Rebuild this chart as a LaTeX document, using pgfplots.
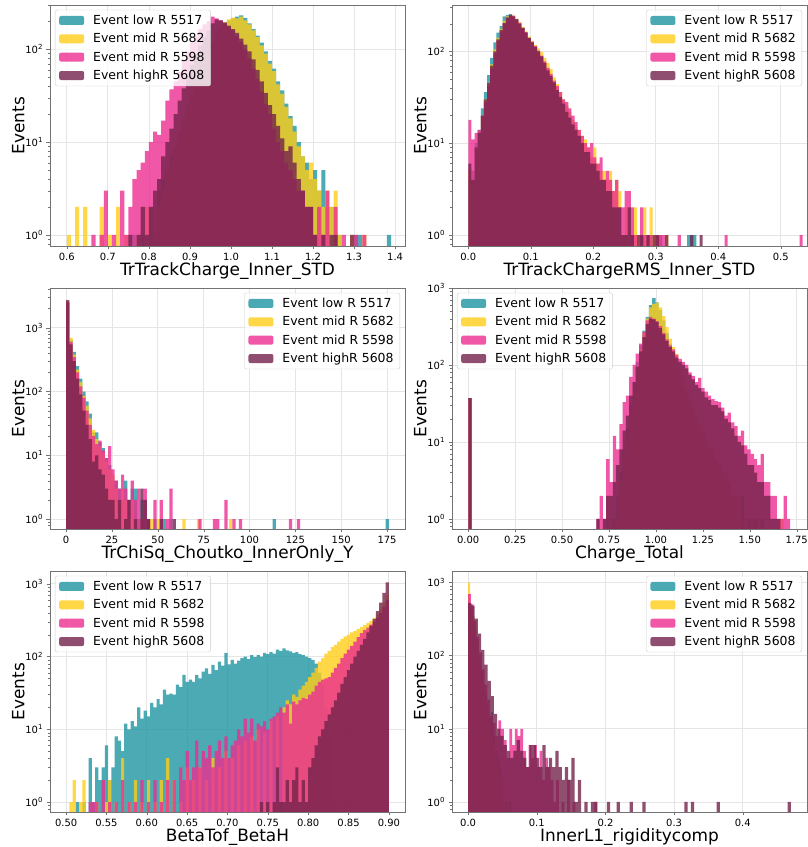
\documentclass[border=0pt]{standalone}
\usepackage{fontspec}
\setmainfont{DejaVu Sans}
\usepackage{pgfplots}
\pgfplotsset{compat=1.18}
\usepgfplotslibrary{groupplots}

\definecolor{cteal}{RGB}{30,149,161}
\definecolor{cgold}{RGB}{255,205,25}
\definecolor{cpink}{RGB}{236,45,145}
\definecolor{cmaroon}{RGB}{115,35,75}

\pgfplotsset{
  hb/.style 2 args={ybar, bar shift=0pt, bar width=#2, fill=#1, fill opacity=0.8, draw=none,
    legend image code/.code={\fill[fill=#1, fill opacity=0.8] (0bp,-4.5bp) rectangle (25bp,4.5bp); \path (32bp,0bp);}},
  lgl/.style={legend style={at={(0.014,0.98)}, anchor=north west}},
  lgr/.style={legend style={at={(0.986,0.98)}, anchor=north east}},
}

\begin{document}
\begin{tikzpicture}
\begin{groupplot}[
  group style={group name=G, group size=2 by 3, horizontal sep=47bp, vertical sep=42bp},
  width=355bp, height=241bp, scale only axis,
  ymode=log, log origin y=infty,
  axis line style={black!55},
  tick align=outside, xtick pos=lower, ytick pos=left,
  tick style={black!55},
  major tick length=3.5bp, minor tick length=2bp,
  minor ytick={0.8,0.9,2,3,4,5,6,7,8,9,20,30,40,50,60,70,80,90,200,300,400,500,600,700,800,900,2000,3000,4000},
  grid=major, major grid style={black!10, line width=0.8bp},
  tick label style={font=\fontsize{10}{12}\selectfont},
  every axis x label/.style={at={(axis description cs:0.5,-0.067)}, anchor=north, inner sep=0pt, font=\fontsize{17}{20}\selectfont},
  every axis y label/.style={at={(axis description cs:-0.089,0.5)}, rotate=90, anchor=center, inner sep=0pt, font=\fontsize{17}{20}\selectfont},
  ylabel={Events},
  legend cell align=left,
  legend style={font=\fontsize{12.5}{14}\selectfont, draw=black!20, rounded corners=2bp,
    fill=white, fill opacity=0.8, text opacity=1, inner xsep=4bp, inner ysep=3bp,
    row sep=3.4bp},
  legend entries={Event low R 5517, Event mid R 5682, Event mid R 5598, Event highR 5608},
]

% ---- TrTrackCharge_Inner_STD
\nextgroupplot[lgl, xmin=0.559, xmax=1.424, ymin=0.76, ymax=300,
  xtick={0.6,0.7,0.8,0.9,1.0,1.1,1.2,1.3,1.4},
  xticklabels={0.6,0.7,0.8,0.9,1.0,1.1,1.2,1.3,1.4},
  ytick={1,10,100}, yticklabels={10\textsuperscript{0},10\textsuperscript{1},10\textsuperscript{2}},
  xlabel={TrTrackCharge\_Inner\_STD}]
\coordinate (tl) at (rel axis cs:0,1);
\addplot[hb={cteal}{0.01}] coordinates {(0.765,1)(0.785,1)(0.805,2)(0.815,1)(0.825,3)(0.835,4)(0.845,5)(0.855,7)(0.865,9)(0.875,12)(0.885,17)(0.895,24)(0.905,32)(0.915,42)(0.925,55)(0.935,72)(0.945,92)(0.955,115)(0.965,140)(0.975,165)(0.985,190)(0.995,205)(1.005,215)(1.015,225)(1.025,232)(1.035,218)(1.045,190)(1.055,165)(1.065,140)(1.075,118)(1.085,95)(1.095,75)(1.105,62)(1.115,45)(1.125,36)(1.135,26)(1.145,19)(1.155,15)(1.165,10)(1.175,7)(1.185,6)(1.195,4)(1.205,5)(1.215,3)(1.225,5)(1.235,2)(1.245,2)(1.265,1)(1.305,1)(1.315,1)(1.385,1)};
\addplot[hb={cgold}{0.01}] coordinates {(0.605,1)(0.625,2)(0.645,2)(0.685,2)(0.705,1)(0.725,2)(0.745,1)(0.775,1)(0.795,2)(0.815,2)(0.825,2)(0.835,3)(0.845,5)(0.855,6)(0.865,9)(0.875,13)(0.885,18)(0.895,25)(0.905,33)(0.915,44)(0.925,58)(0.935,75)(0.945,95)(0.955,120)(0.965,145)(0.975,170)(0.985,195)(0.995,210)(1.005,220)(1.015,215)(1.025,225)(1.035,205)(1.045,185)(1.055,160)(1.065,135)(1.075,110)(1.085,90)(1.095,70)(1.105,58)(1.115,42)(1.125,33)(1.135,24)(1.145,18)(1.155,13)(1.165,9)(1.175,7)(1.185,5)(1.195,6)(1.205,4)(1.215,3)(1.225,2)(1.235,3)(1.245,2)(1.255,3)(1.265,1)(1.295,1)(1.325,1)};
\addplot[hb={cpink}{0.01}] coordinates {(0.665,1)(0.685,1)(0.695,3)(0.715,1)(0.735,3)(0.745,1)(0.755,2)(0.765,4)(0.775,5)(0.785,6)(0.795,8)(0.805,10)(0.815,13)(0.825,12)(0.835,17)(0.845,28)(0.855,37)(0.865,45)(0.875,57)(0.885,75)(0.895,95)(0.905,118)(0.915,140)(0.925,165)(0.935,185)(0.945,200)(0.955,225)(0.965,215)(0.975,205)(0.985,190)(0.995,175)(1.005,160)(1.015,140)(1.025,120)(1.035,100)(1.045,80)(1.055,62)(1.065,48)(1.075,35)(1.085,26)(1.095,20)(1.105,14)(1.115,10)(1.125,8)(1.135,6)(1.145,5)(1.155,4)(1.165,3)(1.175,3)(1.185,2)(1.195,2)(1.205,1)(1.215,2)(1.225,1)(1.235,3)(1.255,2)(1.275,1)(1.305,1)(1.325,1)};
\addplot[hb={cmaroon}{0.01}] coordinates {(0.755,1)(0.775,1)(0.785,2)(0.795,1)(0.805,2)(0.815,3)(0.825,4)(0.835,7)(0.845,10)(0.855,14)(0.865,20)(0.875,28)(0.885,38)(0.895,52)(0.905,68)(0.915,88)(0.925,110)(0.935,135)(0.945,160)(0.955,190)(0.965,210)(0.975,205)(0.985,195)(0.995,180)(1.005,165)(1.015,150)(1.025,130)(1.035,112)(1.045,95)(1.055,78)(1.065,60)(1.075,45)(1.085,34)(1.095,25)(1.105,20)(1.115,15)(1.125,11)(1.135,8)(1.145,9)(1.155,6)(1.165,4)(1.175,3)(1.185,2)(1.195,2)(1.205,1)(1.225,1)(1.245,1)(1.255,1)(1.295,1)};

% ---- TrTrackChargeRMS_Inner_STD
\nextgroupplot[lgr, xmin=-0.026, xmax=0.542, ymin=0.76, ymax=320,
  xtick={0,0.1,0.2,0.3,0.4,0.5}, xticklabels={0.0,0.1,0.2,0.3,0.4,0.5},
  ytick={1,10,100}, yticklabels={10\textsuperscript{0},10\textsuperscript{1},10\textsuperscript{2}},
  xlabel={TrTrackChargeRMS\_Inner\_STD}]
\addplot[hb={cteal}{0.005}] coordinates {(0.0025,4)(0.0075,5)(0.0125,10)(0.0175,14)(0.0225,24)(0.0275,36)(0.0325,55)(0.0375,85)(0.0425,125)(0.0475,160)(0.0525,190)(0.0575,240)(0.0625,250)(0.0675,255)(0.0725,240)(0.0775,220)(0.0825,200)(0.0875,178)(0.0925,155)(0.0975,135)(0.1025,120)(0.1075,108)(0.1125,95)(0.1175,82)(0.1225,70)(0.1275,60)(0.1325,52)(0.1375,44)(0.1425,36)(0.1475,30)(0.1525,28)(0.1575,25)(0.1625,20)(0.1675,17)(0.1725,14)(0.1775,12)(0.1825,10)(0.1875,8)(0.1925,7)(0.1975,6)(0.2025,5)(0.2075,5)(0.2125,4)(0.2175,3)(0.2225,3)(0.2275,2)(0.2325,2)(0.2375,2)(0.2425,1)(0.2475,1)(0.2525,1)(0.2625,1)(0.2775,1)(0.2925,1)(0.3075,1)(0.3525,1)(0.3575,1)(0.3625,1)};
\addplot[hb={cgold}{0.005}] coordinates {(0.0025,5)(0.0075,4)(0.0125,9)(0.0175,12)(0.0225,20)(0.0275,30)(0.0325,45)(0.0375,72)(0.0425,105)(0.0475,140)(0.0525,175)(0.0575,215)(0.0625,240)(0.0675,248)(0.0725,245)(0.0775,228)(0.0825,210)(0.0875,185)(0.0925,165)(0.0975,145)(0.1025,130)(0.1075,118)(0.1125,108)(0.1175,98)(0.1225,85)(0.1275,75)(0.1325,64)(0.1375,52)(0.1425,44)(0.1475,36)(0.1525,30)(0.1575,26)(0.1625,22)(0.1675,18)(0.1725,15)(0.1775,14)(0.1825,12)(0.1875,11)(0.1925,9)(0.1975,7)(0.2025,9)(0.2075,6)(0.2125,5)(0.2175,5)(0.2225,4)(0.2275,5)(0.2325,3)(0.2375,4)(0.2425,3)(0.2475,1)(0.2525,2)(0.2575,1)(0.2675,2)(0.2725,1)(0.2825,2)(0.2875,1)(0.2925,2)(0.2975,1)(0.3025,1)(0.3175,1)};
\addplot[hb={cpink}{0.005}] coordinates {(0.0025,18)(0.0075,11)(0.0125,13)(0.0175,14)(0.0225,20)(0.0275,28)(0.0325,42)(0.0375,65)(0.0425,95)(0.0475,130)(0.0525,165)(0.0575,200)(0.0625,230)(0.0675,245)(0.0725,245)(0.0775,220)(0.0825,205)(0.0875,180)(0.0925,162)(0.0975,140)(0.1025,128)(0.1075,115)(0.1125,102)(0.1175,90)(0.1225,78)(0.1275,66)(0.1325,57)(0.1375,48)(0.1425,42)(0.1475,36)(0.1525,30)(0.1575,28)(0.1625,24)(0.1675,20)(0.1725,17)(0.1775,14)(0.1825,12)(0.1875,10)(0.1925,9)(0.1975,10)(0.2025,7)(0.2075,6)(0.2125,7)(0.2175,4)(0.2225,5)(0.2275,4)(0.2325,3)(0.2375,4)(0.2425,2)(0.2475,2)(0.2525,3)(0.2575,3)(0.2625,2)(0.2675,1)(0.2775,2)(0.2825,1)(0.2875,1)(0.2925,1)(0.3025,1)(0.3075,1)(0.3125,1)(0.3375,1)(0.4125,1)(0.5325,1)};
\addplot[hb={cmaroon}{0.005}] coordinates {(0.0025,6)(0.0075,4)(0.0125,9)(0.0175,13)(0.0225,20)(0.0275,30)(0.0325,45)(0.0375,70)(0.0425,100)(0.0475,135)(0.0525,170)(0.0575,205)(0.0625,235)(0.0675,250)(0.0725,240)(0.0775,225)(0.0825,200)(0.0875,180)(0.0925,160)(0.0975,140)(0.1025,125)(0.1075,112)(0.1125,100)(0.1175,88)(0.1225,75)(0.1275,62)(0.1325,54)(0.1375,46)(0.1425,38)(0.1475,32)(0.1525,27)(0.1575,22)(0.1625,19)(0.1675,16)(0.1725,14)(0.1775,12)(0.1825,10)(0.1875,8)(0.1925,8)(0.1975,6)(0.2025,6)(0.2075,5)(0.2125,4)(0.2175,4)(0.2225,3)(0.2275,3)(0.2325,2)(0.2375,2)(0.2425,2)(0.2475,1)(0.2525,1)(0.2575,2)(0.2625,1)(0.2725,1)(0.2775,1)(0.2875,1)(0.2975,1)(0.3025,1)(0.3175,1)(0.3575,1)(0.3725,1)};

% ---- TrChiSq_Choutko_InnerOnly_Y
\nextgroupplot[lgr, xmin=-8.8, xmax=184.8, ymin=0.7, ymax=4200,
  xtick={0,25,50,75,100,125,150,175},
  ytick={1,10,100,1000}, yticklabels={10\textsuperscript{0},10\textsuperscript{1},10\textsuperscript{2},10\textsuperscript{3}},
  xticklabels={0,25,50,75,100,125,150,175},
  xlabel={TrChiSq\_Choutko\_InnerOnly\_Y}]
\addplot[hb={cteal}{1.76}] coordinates {(0.88,2500)(2.64,650)(4.4,420)(6.16,250)(7.92,160)(9.68,100)(11.44,70)(13.2,45)(14.96,23)(16.72,23)(18.48,16)(20.24,13)(22,9)(23.76,7)(25.52,4)(27.28,4)(29.04,3)(30.8,2)(32.56,4)(34.32,2)(36.08,3)(37.84,3)(39.6,1)(41.36,2)(44.88,1)(48.4,1)(53.68,1)(57.2,1)(113.52,1)(175.12,1)};
\addplot[hb={cgold}{1.76}] coordinates {(0.88,2600)(2.64,700)(4.4,380)(6.16,220)(7.92,140)(9.68,85)(11.44,60)(13.2,38)(14.96,25)(16.72,18)(18.48,14)(20.24,11)(22,8)(23.76,6)(25.52,5)(27.28,3)(29.04,2)(30.8,3)(32.56,2)(34.32,1)(36.08,2)(37.84,1)(41.36,1)(46.64,1)(50.16,1)(64.24,1)(72.16,1)(89.76,1)};
\addplot[hb={cpink}{1.76}] coordinates {(0.88,2500)(2.64,600)(4.4,350)(6.16,200)(7.92,120)(9.68,80)(11.44,50)(13.2,30)(14.96,20)(16.72,15)(18.48,17)(20.24,12)(22,9)(23.76,14)(25.52,6)(27.28,4)(29.04,3)(30.8,5)(32.56,3)(34.32,2)(36.08,4)(37.84,2)(39.6,3)(41.36,1)(43.12,3)(44.88,1)(48.4,2)(51.92,2)(55.44,1)(57.2,3)(73.04,1)(80.96,1)(82.72,1)(87.12,2)(91.52,1)(95.04,1)(122.32,1)(126.72,1)};
\addplot[hb={cmaroon}{1.76}] coordinates {(0.88,2700)(2.64,550)(4.4,300)(6.16,160)(7.92,90)(9.68,50)(11.44,30)(13.2,18)(14.96,8)(16.72,10)(18.48,6)(20.24,5)(22,3)(23.76,2)(25.52,2)(27.28,1)(29.04,2)(32.56,1)(34.32,2)(37.84,1)(41.36,3)(43.12,2)(44.88,1)(51.92,1)(58.96,1)};

% ---- Charge_Total
\nextgroupplot[lgl, xmin=-0.0865, xmax=1.805, ymin=0.74, ymax=1000,
  xtick={0,0.25,0.5,0.75,1,1.25,1.5,1.75},
  xticklabels={0.00,0.25,0.50,0.75,1.00,1.25,1.50,1.75},
  ytick={1,10,100,1000}, yticklabels={10\textsuperscript{0},10\textsuperscript{1},10\textsuperscript{2},10\textsuperscript{3}},
  xlabel={Charge\_Total}]
\addplot[hb={cteal}{0.0175}] coordinates {(0.009,37)(0.744,1)(0.779,1)(0.796,2)(0.814,4)(0.831,8)(0.849,15)(0.866,30)(0.884,60)(0.901,110)(0.919,180)(0.936,280)(0.954,420)(0.971,600)(0.989,740)(1.006,650)(1.024,520)(1.041,380)(1.059,260)(1.076,190)(1.094,130)(1.111,95)(1.129,70)(1.146,52)(1.164,40)(1.181,30)(1.199,24)(1.216,19)(1.234,15)(1.251,12)(1.269,10)(1.286,8)(1.304,7)(1.321,6)(1.339,5)(1.356,4)(1.374,3)(1.391,3)(1.409,2)(1.426,2)(1.444,1)(1.461,2)(1.496,1)(1.531,1)(1.566,1)};
\addplot[hb={cgold}{0.0175}] coordinates {(0.009,37)(0.761,1)(0.796,1)(0.814,3)(0.831,6)(0.849,12)(0.866,25)(0.884,50)(0.901,95)(0.919,160)(0.936,260)(0.954,400)(0.971,560)(0.989,620)(1.006,640)(1.024,560)(1.041,430)(1.059,310)(1.076,220)(1.094,170)(1.111,140)(1.129,90)(1.146,65)(1.164,48)(1.181,36)(1.199,28)(1.216,22)(1.234,17)(1.251,14)(1.269,11)(1.286,9)(1.304,8)(1.321,6)(1.339,5)(1.356,4)(1.374,4)(1.391,3)(1.409,2)(1.426,2)(1.444,2)(1.479,1)(1.514,1)(1.549,1)(1.671,1)};
\addplot[hb={cpink}{0.0175}] coordinates {(0.009,37)(0.691,1)(0.709,2)(0.726,1)(0.744,6)(0.761,3)(0.779,12)(0.796,8)(0.814,17)(0.831,33)(0.849,40)(0.866,70)(0.884,100)(0.901,140)(0.919,190)(0.936,270)(0.954,380)(0.971,420)(0.989,400)(1.006,370)(1.024,320)(1.041,260)(1.059,215)(1.076,180)(1.094,160)(1.111,135)(1.129,120)(1.146,110)(1.164,100)(1.181,80)(1.199,72)(1.216,60)(1.234,68)(1.251,50)(1.269,45)(1.286,40)(1.304,36)(1.321,34)(1.339,33)(1.356,28)(1.374,22)(1.391,24)(1.409,18)(1.426,16)(1.444,12)(1.461,14)(1.479,9)(1.496,8)(1.514,7)(1.531,6)(1.549,5)(1.566,7)(1.584,3)(1.601,3)(1.619,2)(1.636,2)(1.654,1)(1.671,1)(1.689,2)(1.706,1)};
\addplot[hb={cmaroon}{0.0175}] coordinates {(0.009,37)(0.691,1)(0.726,1)(0.744,2)(0.761,2)(0.779,3)(0.796,5)(0.814,8)(0.831,14)(0.849,22)(0.866,40)(0.884,60)(0.901,95)(0.919,150)(0.936,230)(0.954,340)(0.971,400)(0.989,390)(1.006,360)(1.024,300)(1.041,250)(1.059,205)(1.076,170)(1.094,150)(1.111,125)(1.129,110)(1.146,100)(1.164,90)(1.181,75)(1.199,65)(1.216,55)(1.234,50)(1.251,45)(1.269,38)(1.286,35)(1.304,30)(1.321,30)(1.339,28)(1.356,25)(1.374,20)(1.391,18)(1.409,15)(1.426,12)(1.444,10)(1.461,9)(1.479,7)(1.496,5)(1.514,5)(1.531,4)(1.549,3)(1.566,3)(1.584,2)(1.601,2)(1.619,1)(1.636,1)(1.654,1)};

% ---- BetaTof_BetaH
\nextgroupplot[lgl, xmin=0.48, xmax=0.92, ymin=0.73, ymax=1500,
  xtick={0.5,0.55,0.6,0.65,0.7,0.75,0.8,0.85,0.9},
  xticklabels={0.50,0.55,0.60,0.65,0.70,0.75,0.80,0.85,0.90},
  ytick={1,10,100,1000}, yticklabels={10\textsuperscript{0},10\textsuperscript{1},10\textsuperscript{2},10\textsuperscript{3}},
  xlabel={BetaTof\_BetaH}]
\addplot[hb={cteal}{0.004}] coordinates {(0.514,1)(0.522,1)(0.53,4)(0.534,1)(0.538,3)(0.542,2)(0.546,3)(0.55,6)(0.554,2)(0.558,3)(0.562,8)(0.566,7)(0.57,5)(0.574,12)(0.578,10)(0.582,13)(0.586,11)(0.59,20)(0.594,14)(0.598,18)(0.602,15)(0.606,23)(0.61,20)(0.614,26)(0.618,22)(0.622,35)(0.626,30)(0.63,31)(0.634,30)(0.638,41)(0.642,38)(0.646,56)(0.65,45)(0.654,48)(0.658,45)(0.662,56)(0.666,50)(0.67,62)(0.674,69)(0.678,58)(0.682,77)(0.686,65)(0.69,85)(0.694,75)(0.698,112)(0.702,78)(0.706,90)(0.71,80)(0.714,88)(0.718,95)(0.722,100)(0.726,92)(0.73,105)(0.734,98)(0.738,105)(0.742,100)(0.746,112)(0.75,108)(0.754,115)(0.758,110)(0.762,125)(0.766,120)(0.77,130)(0.774,122)(0.778,118)(0.782,112)(0.786,115)(0.79,108)(0.794,105)(0.798,100)(0.802,95)(0.806,90)(0.81,80)(0.814,60)(0.818,40)(0.822,20)(0.826,8)(0.83,3)};
\addplot[hb={cgold}{0.004}] coordinates {(0.506,1)(0.51,2)(0.518,1)(0.522,2)(0.538,1)(0.55,1)(0.554,2)(0.562,1)(0.57,4)(0.578,1)(0.586,2)(0.594,1)(0.602,2)(0.61,1)(0.618,2)(0.626,4)(0.634,2)(0.642,1)(0.65,3)(0.658,2)(0.666,3)(0.674,2)(0.682,4)(0.69,3)(0.698,5)(0.706,4)(0.714,6)(0.722,7)(0.73,8)(0.738,10)(0.746,9)(0.754,13)(0.762,15)(0.77,20)(0.774,25)(0.778,22)(0.782,30)(0.786,28)(0.79,35)(0.794,40)(0.798,45)(0.802,52)(0.806,60)(0.81,70)(0.814,85)(0.818,95)(0.822,110)(0.826,120)(0.83,135)(0.834,145)(0.838,160)(0.842,175)(0.846,190)(0.85,200)(0.854,215)(0.858,225)(0.862,240)(0.866,255)(0.87,270)(0.874,290)(0.878,310)(0.882,340)(0.886,380)(0.89,450)(0.894,550)(0.898,700)};
\addplot[hb={cpink}{0.004}] coordinates {(0.53,1)(0.534,1)(0.538,1)(0.546,2)(0.554,1)(0.562,1)(0.57,2)(0.578,1)(0.586,1)(0.594,2)(0.602,1)(0.61,2)(0.618,1)(0.626,2)(0.634,2)(0.642,3)(0.646,2)(0.65,5)(0.654,2)(0.658,3)(0.662,7)(0.666,3)(0.67,5)(0.674,4)(0.678,6)(0.682,3)(0.686,5)(0.69,7)(0.694,4)(0.698,8)(0.702,4)(0.706,6)(0.71,7)(0.714,10)(0.718,8)(0.722,14)(0.726,9)(0.73,14)(0.734,7)(0.738,12)(0.742,11)(0.746,13)(0.75,10)(0.754,14)(0.758,15)(0.762,17)(0.766,20)(0.77,17)(0.774,22)(0.778,12)(0.782,24)(0.786,22)(0.79,25)(0.794,27)(0.798,26)(0.802,30)(0.806,33)(0.81,40)(0.814,45)(0.818,48)(0.822,50)(0.826,52)(0.83,60)(0.834,70)(0.838,80)(0.842,95)(0.846,110)(0.85,125)(0.854,140)(0.858,160)(0.862,185)(0.866,210)(0.87,230)(0.874,250)(0.878,275)(0.882,300)(0.886,340)(0.89,400)(0.894,480)(0.898,600)};
\addplot[hb={cmaroon}{0.004}] coordinates {(0.742,1)(0.75,1)(0.758,1)(0.762,3)(0.766,1)(0.77,1)(0.774,2)(0.778,1)(0.782,2)(0.786,3)(0.79,1)(0.794,2)(0.798,1)(0.802,3)(0.806,4)(0.81,6)(0.814,8)(0.818,10)(0.822,13)(0.826,16)(0.83,20)(0.834,25)(0.838,32)(0.842,42)(0.846,52)(0.85,65)(0.854,80)(0.858,100)(0.862,120)(0.866,145)(0.87,175)(0.874,215)(0.878,265)(0.882,330)(0.886,420)(0.89,550)(0.894,750)(0.898,1050)};

% ---- InnerL1_rigiditycomp
\nextgroupplot[lgr, xmin=-0.0235, xmax=0.4935, ymin=0.73, ymax=1430,
  xtick={0,0.1,0.2,0.3,0.4}, xticklabels={0.0,0.1,0.2,0.3,0.4},
  ytick={1,10,100,1000}, yticklabels={10\textsuperscript{0},10\textsuperscript{1},10\textsuperscript{2},10\textsuperscript{3}},
  xlabel={InnerL1\_rigiditycomp}]
\addplot[hb={cteal}{0.003}] coordinates {(0.0015,600)(0.0045,500)(0.0075,330)(0.0105,220)(0.0135,140)(0.0165,95)(0.0195,60)(0.0225,40)(0.0255,30)(0.0285,20)(0.0315,14)(0.0345,17)(0.0375,8)(0.0405,5)(0.0435,4)(0.0465,3)(0.0495,2)(0.0555,1)(0.0615,1)};
\addplot[hb={cgold}{0.003}] coordinates {(0.0015,1000)(0.0045,480)(0.0075,350)(0.0105,230)(0.0135,150)(0.0165,100)(0.0195,65)(0.0225,42)(0.0255,28)(0.0285,18)(0.0315,12)(0.0345,8)(0.0375,6)(0.0405,4)(0.0435,3)(0.0465,2)(0.0495,2)(0.0525,1)(0.0585,1)};
\addplot[hb={cpink}{0.004}] coordinates {(0.002,690)(0.006,500)(0.01,300)(0.014,180)(0.018,110)(0.022,65)(0.026,40)(0.03,25)(0.034,15)(0.038,12)(0.042,8)(0.046,13)(0.05,10)(0.054,7)(0.058,4)(0.062,10)(0.066,6)(0.07,10)(0.074,8)(0.078,10)(0.082,5)(0.086,3)(0.09,6)(0.094,4)(0.098,6)(0.102,3)(0.106,5)(0.11,2)(0.114,4)(0.118,3)(0.122,2)(0.126,1)(0.13,2)(0.138,1)(0.146,2)(0.154,1)(0.186,1)};
\addplot[hb={cmaroon}{0.0047}] coordinates {(0.0024,520)(0.0071,480)(0.0118,320)(0.0165,200)(0.0212,120)(0.0259,75)(0.0306,45)(0.0353,28)(0.04,16)(0.0447,10)(0.0494,8)(0.0541,6)(0.0588,5)(0.0635,4)(0.0682,5)(0.0729,7)(0.0776,5)(0.0823,4)(0.087,3)(0.0917,6)(0.0964,6)(0.1011,4)(0.1058,3)(0.1105,6)(0.1152,3)(0.1199,4)(0.1246,3)(0.1293,5)(0.134,3)(0.1387,2)(0.1434,3)(0.1481,2)(0.1528,4)(0.1575,1)(0.1622,2)(0.1716,1)(0.181,1)(0.1857,1)(0.2045,1)(0.2186,1)(0.2374,1)(0.2562,1)(0.3173,1)(0.3267,1)(0.3643,1)(0.4677,1)};
\end{groupplot}
\pgfresetboundingbox
\path[use as bounding box] (tl) ++(-50bp,5bp) rectangle ++(808bp,-847bp);
\end{tikzpicture}
\end{document}
